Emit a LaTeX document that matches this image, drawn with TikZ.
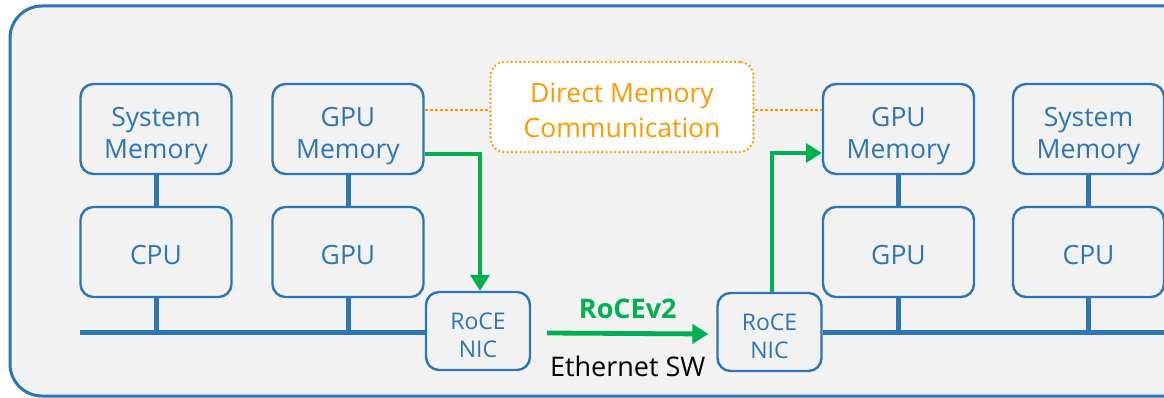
\documentclass[tikz,border=0pt]{standalone}
\usepackage{fontspec}
\setmainfont{Open Sans}
\usetikzlibrary{arrows.meta,calc}
\definecolor{nodeblue}{HTML}{2E75B6}
\definecolor{flowgreen}{HTML}{00B050}
\definecolor{dmcorange}{HTML}{FF9900}
\definecolor{panelgray}{HTML}{F2F2F2}
\begin{document}
\begin{tikzpicture}[x=1pt,y=-1pt,
   unit/.style={draw=nodeblue,line width=2.4pt,rounded corners=13pt,
     minimum width=151pt,minimum height=90pt,inner sep=0pt,align=center,
     text=nodeblue,text height=26pt,font=\fontsize{26.5}{32}\selectfont},
   twoline/.style={unit,text height=66pt},
   nic/.style={unit,minimum width=104pt,minimum height=78pt,text height=54pt,
     font=\fontsize{23}{28}\selectfont},
   bus/.style={draw=nodeblue,line width=5pt},
   flow/.style={draw=flowgreen,line width=4.8pt,
     -{Triangle[length=16pt,width=19pt]}},
   dmc/.style={draw=dmcorange,fill=white,line width=2.6pt,line cap=round,
     dash pattern=on 0pt off 4.3pt,rounded corners=14pt,
     minimum width=263pt,minimum height=90pt,inner sep=0pt,align=center,
     text=dmcorange,text height=62pt,font=\fontsize{26.5}{35}\selectfont}]
   \useasboundingbox (0,0) rectangle (1164,398);
   \clip (0,0) rectangle (1164,398);
   % host panel
   \draw[draw=nodeblue,fill=panelgray,line width=3pt,rounded corners=32pt]
      (10,6) rectangle (1240,396);
   % left host
   \node[twoline] (smemL) at (156,129) {System\\Memory};
   \node[unit] (cpuL) at (156,252) {CPU};
   \node[twoline] (gmemL) at (348,129) {GPU\\Memory};
   \node[unit] (gpuL) at (348,252) {GPU};
   \node[nic] (nicL) at (478,331) {RoCE\\NIC};
   % right host
   \node[nic] (nicR) at (769.5,332) {RoCE\\NIC};
   \node[twoline] (gmemR) at (898.5,129) {GPU\\Memory};
   \node[unit] (gpuR) at (898.5,252) {GPU};
   \node[twoline] (smemR) at (1088.5,129) {System\\Memory};
   \node[unit] (cpuR) at (1088.5,252) {CPU};
   % buses
   \coordinate (busL) at (80,332);
   \coordinate (busR) at (1170,332);
   \draw[bus] (busL) -- (busL -| nicL.west);
   \draw[bus] (busR -| nicR.east) -- (busR);
   \foreach \m/\p in {smemL/cpuL,gmemL/gpuL,gmemR/gpuR,smemR/cpuR}{
     \draw[bus] (\m) -- (\p);
     \draw[bus] (\p.south) -- (\p.south |- busL);
   }
   % direct memory communication
   \node[dmc] (dmc) at (622,107) {Direct Memory\\Communication};
   \draw[dmcorange,line width=1.2pt,dash pattern=on 3pt off 2pt]
      ([yshift=-3pt]gmemL.east |- dmc.west) -- ([yshift=-3pt]dmc.west);
   \draw[dmcorange,line width=1.2pt,dash pattern=on 3pt off 2pt]
      ([yshift=-3pt]dmc.east) -- ([yshift=-3pt]dmc.east -| gmemR.west);
   % data path
   \draw[flow] ([yshift=-25pt]gmemL.east) -| ([xshift=2pt]nicL.north);
   \draw[flow] ([xshift=2.5pt]nicR.north) |- ([yshift=-24pt]gmemR.west);
   \draw[flow] ([xshift=16pt,yshift=-2pt]nicL.east)
      -- node[above=12pt,inner sep=0pt,text=flowgreen,
              font=\fontsize{27}{32}\selectfont\bfseries] (rocev2) {RoCEv2}
         node[below=20pt,inner sep=0pt,text=black,
              font=\fontsize{27}{32}\selectfont] (ethsw) {Ethernet SW}
         ([xshift=-8pt,yshift=-2pt]nicR.west);
\end{tikzpicture}
\end{document}
